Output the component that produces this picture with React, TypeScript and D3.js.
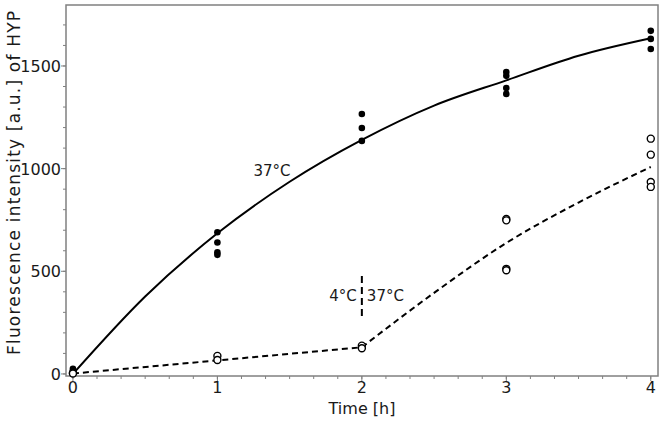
import React from "react";
import * as d3 from "d3";

// measured points, 37°C throughout (filled)
const warmTimes = [0, 0, 0, 1, 1, 1, 1, 2, 2, 2, 3, 3, 3, 3, 4, 4, 4];
const warmValues = [25, 15, 8, 690, 640, 592, 580, 1266, 1198, 1135, 1471, 1452, 1393, 1364, 1671, 1632, 1583];

// measured points, 4°C until 2 h then 37°C (open)
const coldTimes = [0, 0, 1, 1, 2, 2, 3, 3, 3, 3, 4, 4, 4, 4];
const coldValues = [5, 2, 88, 68, 138, 125, 755, 748, 512, 505, 1146, 1068, 935, 911];

// fitted curves
const warmFitTimes = [0, 0.5, 1, 1.5, 2, 2.5, 3, 3.5, 4];
const warmFitValues = [0, 377, 685, 936, 1140, 1307, 1430, 1550, 1635];
const coldLineTimes = [0, 1, 2];
const coldLineValues = [2, 66, 130];
const coldFitTimes = [2, 2.5, 3, 3.5, 4];
const coldFitValues = [130, 395, 638, 835, 1008];

const xTicks = [0, 1, 2, 3, 4];
const yTicks = [0, 500, 1000, 1500];

const W = 664;
const H = 421;
const left = 66, right = 658, top = 5, bottom = 376;

const x = d3.scaleLinear().domain([-0.048, 4.05]).range([left, right]);
const y = d3.scaleLinear().domain([-10, 1797]).range([bottom, top]);

const line = d3
  .line<[number, number]>()
  .x((d) => x(d[0]))
  .y((d) => y(d[1]))
  .curve(d3.curveMonotoneX);
const straight = d3
  .line<[number, number]>()
  .x((d) => x(d[0]))
  .y((d) => y(d[1]));

const zip = (a: number[], b: number[]) => a.map((t, i) => [t, b[i]] as [number, number]);

const font = "'DejaVu Sans', sans-serif";
const axisColor = "#808080";
const ink = "#1a1a1a";

const xMinor = d3.range(0, 24 + 1).map((i) => i / 6).filter((t) => t <= 4.05);
const yMinor = d3.range(0, 1800, 100);

export default function App() {
  return (
    <div style={{ position: "fixed", left: 0, top: 0 }}>
      <svg width={W} height={H} viewBox={`0 0 ${W} ${H}`} style={{ display: "block", background: "#fff" }}>
        {/* ticks */}
        {xMinor.map((t) => (
          <line key={"xm" + t} x1={x(t)} x2={x(t)} y1={bottom} y2={bottom + 3} stroke={axisColor} strokeWidth={1} />
        ))}
        {xTicks.map((t) => (
          <g key={"xt" + t}>
            <line x1={x(t)} x2={x(t)} y1={bottom} y2={bottom + 5} stroke={axisColor} strokeWidth={1} />
            <text x={x(t)} y={393} textAnchor="middle" fontFamily={font} fontSize={16} fill={ink}>
              {t}
            </text>
          </g>
        ))}
        {yMinor.map((v) => (
          <line key={"ym" + v} x1={left - 3} x2={left} y1={y(v)} y2={y(v)} stroke={axisColor} strokeWidth={1} />
        ))}
        {yTicks.map((v) => (
          <g key={"yt" + v}>
            <line x1={left - 5} x2={left} y1={y(v)} y2={y(v)} stroke={axisColor} strokeWidth={1} />
            <text x={left - 5} y={y(v) + 6} textAnchor="end" fontFamily={font} fontSize={16} fill={ink}>
              {v}
            </text>
          </g>
        ))}
        <rect x={left} y={top} width={right - left} height={bottom - top} fill="none" stroke={axisColor} strokeWidth={1.5} />

        {/* axis titles */}
        <text x={362} y={414} textAnchor="middle" fontFamily={font} fontSize={16} fill={ink}>
          Time [h]
        </text>
        <text
          transform={`translate(20,${183}) rotate(-90)`}
          textAnchor="middle"
          fontFamily={font}
          fontSize={17}
          textLength={344}
          lengthAdjust="spacing"
          fill={ink}
        >
          Fluorescence intensity [a.u.] of HYP
        </text>

        {/* fits */}
        <path d={line(zip(warmFitTimes, warmFitValues)) || ""} fill="none" stroke="#000" strokeWidth={2} />
        <path
          d={(straight(zip(coldLineTimes, coldLineValues)) || "") + (line(zip(coldFitTimes, coldFitValues)) || "")}
          fill="none"
          stroke="#000"
          strokeWidth={2}
          strokeDasharray="6,4"
        />

        {/* points */}
        {warmTimes.map((t, i) => (
          <circle key={"w" + i} cx={x(t)} cy={y(warmValues[i])} r={3.3} fill="#000" />
        ))}
        {coldTimes.map((t, i) => (
          <circle key={"c" + i} cx={x(t)} cy={y(coldValues[i])} r={3.5} fill="#fff" stroke="#000" strokeWidth={1.4} />
        ))}

        {/* annotations */}
        <text x={272} y={176} textAnchor="middle" fontFamily={font} fontSize={15} fill={ink}>
          37°C
        </text>
        <line x1={x(2)} x2={x(2)} y1={276} y2={318} stroke="#000" strokeWidth={2} strokeDasharray="7,4" />
        <text x={x(2) - 5} y={301} textAnchor="end" fontFamily={font} fontSize={15} fill={ink}>
          4°C
        </text>
        <text x={x(2) + 5} y={301} textAnchor="start" fontFamily={font} fontSize={15} fill={ink}>
          37°C
        </text>
      </svg>
    </div>
  );
}
